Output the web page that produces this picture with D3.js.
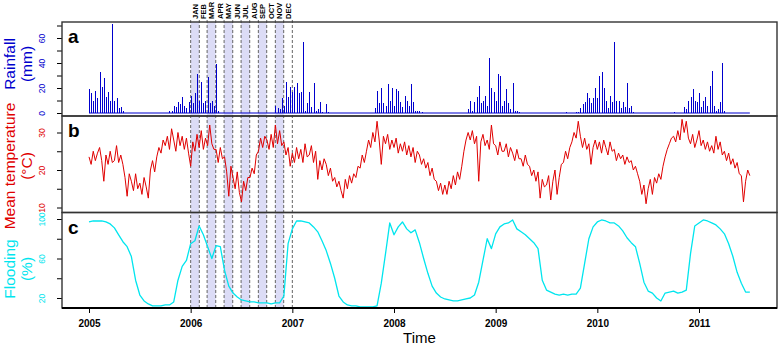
<!DOCTYPE html>
<html>
<head>
<meta charset="utf-8">
<script src="https://cdn.jsdelivr.net/npm/d3@7"></script>
<style>
body { margin: 0; background: #fff; }
svg { display: block; font-family: "Liberation Sans", Arial, sans-serif; }
</style>
</head>
<body>
<svg id="chart"></svg>
<script>
// ---- data ----
// rainfall (mm), 4 readings per month starting Jan 2005
const rainStart = 2005, rainPerYear = 48;
const rainfall = [
  19, 16, 10, 18, 12, 33, 21, 28, 13, 17,
  10, 71, 10, 12, 4, 5, 2, 0, 0, 0,
  0, 0, 0, 0, 0, 0, 0, 0, 0, 0,
  0, 0, 0, 0, 0, 0, 0, 0, 2, 2,
  6, 5, 9, 7, 13, 6, 4, 9, 14, 8,
  16, 31, 10, 25, 8, 10, 29, 8, 10, 6,
  39, 2, 0, 0, 0, 0, 0, 0, 0, 0,
  0, 0, 0, 0, 0, 0, 0, 0, 0, 0,
  0, 0, 0, 0, 0, 0, 0, 0, 6, 4,
  3, 12, 6, 25, 13, 21, 17, 21, 24, 16,
  17, 57, 2, 8, 17, 5, 24, 2, 3, 9,
  1, 0, 7, 1, 0, 0, 0, 0, 0, 0,
  0, 0, 0, 0, 0, 0, 0, 0, 0, 0,
  0, 0, 0, 0, 0, 4, 18, 8, 20, 8,
  6, 23, 10, 20, 6, 19, 18, 9, 5, 14,
  10, 6, 23, 9, 2, 2, 2, 1, 0, 0,
  0, 0, 0, 0, 0, 0, 0, 0, 0, 0,
  0, 0, 0, 0, 0, 0, 0, 0, 0, 3,
  10, 2, 9, 13, 22, 8, 10, 14, 6, 44,
  20, 17, 10, 31, 30, 6, 10, 19, 8, 3,
  24, 2, 2, 1, 0, 0, 0, 0, 0, 0,
  0, 0, 0, 0, 0, 0, 0, 0, 0, 0,
  0, 0, 0, 0, 0, 1, 0, 0, 0, 0,
  1, 1, 4, 7, 9, 16, 12, 8, 12, 20,
  12, 30, 33, 20, 10, 4, 14, 9, 57, 10,
  10, 4, 9, 5, 24, 4, 6, 1, 0, 0,
  0, 0, 0, 0, 0, 0, 0, 0, 0, 0,
  0, 0, 0, 0, 0, 0, 1, 0, 0, 0,
  0, 5, 3, 10, 13, 19, 10, 9, 16, 5,
  10, 13, 6, 22, 34, 6, 2, 3, 9, 40,
  2, 0, 0, 0, 0, 0, 0, 0, 0, 0,
  0, 0, 0
];

// mean temperature (deg C), 4 readings per month starting Jan 2005
const tempStart = 2005, tempPerYear = 48;
const temperature = [
  // 2005
  23.5, 21.5, 25, 22.5, 24.5, 26, 22.5, 17, 24, 21.5, 25, 22,
  22.5, 26.5, 22, 24, 21.5, 18, 13, 19, 17, 14.5, 19, 15,
  16.5, 13.5, 18, 15.5, 12.5, 20, 22.5, 19.5, 23.5, 26, 24.5, 28,
  26.5, 29, 25.5, 31, 28, 25, 30, 26.5, 29, 25.5, 28.5, 24.5,
  // 2006
  21, 27.5, 25, 29.5, 26, 30.5, 25.5, 28.5, 26.5, 32, 27, 25.5,
  25.5, 22, 26, 23, 23.5, 19.5, 13, 21, 18, 15, 19.5, 14,
  11.5, 17, 14.5, 18, 18, 20.5, 19, 24, 25, 28.5, 26, 29,
  28, 25.5, 29.5, 26, 32, 27, 30.5, 26.5, 27.5, 24, 26, 21,
  // 2007
  24.5, 22, 26, 23, 25.5, 22, 27, 23.5, 24, 26.5, 22, 25,
  17.5, 22.5, 20, 23, 21.5, 18.5, 20.5, 17, 18, 15.5, 17, 14.5,
  12.5, 17.5, 15, 18.5, 16.5, 19, 18, 21, 20.5, 24, 22, 25,
  28, 26, 30, 27.5, 33, 28, 21.5, 29, 27, 29.5, 25.5, 28,
  // 2008
  26, 28.5, 24.5, 27, 25, 27.5, 24, 26.5, 23.5, 26, 22, 25,
  24, 21.5, 23, 20.5, 22, 18.5, 20.5, 17.5, 17, 14.5, 16.5, 13.5,
  16, 13.5, 17, 15, 18.5, 16, 19.5, 17.5, 21, 25, 28, 30,
  28, 30.5, 27, 29, 17, 27.5, 29.5, 26.5, 28, 25.5, 32, 27,
  // 2009
  26.5, 24, 27.5, 25, 25, 27, 23.5, 26, 24.5, 22.5, 25.5, 23,
  23, 21, 24, 21.5, 21, 18.5, 20, 17, 19.5, 12.5, 17.5, 15.5,
  16, 18.5, 12, 17, 20, 13.5, 18, 21.5, 22, 25, 23, 26,
  27.5, 30, 28.5, 33, 29, 26, 28.5, 25.5, 27, 21.5, 26, 28,
  // 2010
  25.5, 27.5, 24.5, 28, 26, 24, 27.5, 25, 25.5, 22.5, 24.5, 23,
  24, 21.5, 23.5, 22, 22.5, 20, 21, 19, 17, 13.5, 16, 11,
  15, 17.5, 13.5, 18, 16.5, 19, 17.5, 21, 23.5, 25.5, 27, 28.5,
  29, 27.5, 30.5, 28, 33.5, 30, 33, 28.5, 27, 29.5, 26, 28,
  // 2011
  30.5, 26.5, 28, 25.5, 27.5, 25, 26.5, 24.5, 29, 25.5, 27.5, 24,
  25, 22.5, 24.5, 21.5, 23, 20.5, 22, 19, 18.5, 11.5, 17, 20,
  18.5
];

// flooding (%), 2 readings per month starting Jan 2005
const floodStart = 2005, floodPerYear = 24;
const flooding = [
  97, 98, 98, 98, 97, 95, 91, 84, 77, 72, 62, 38, 23, 17, 14, 12, 12, 12, 13, 13, 16, 38, 52, 58,
  75, 78, 93, 84, 72, 60, 73, 72, 48, 32, 25, 21, 18, 17, 16, 16, 15, 15, 15, 14, 15, 15, 22, 75,
  90, 98, 98, 97, 96, 92, 87, 78, 68, 55, 40, 22, 16, 13, 12, 12, 11, 11, 11, 11, 12, 35, 65, 96,
  84, 92, 97, 90, 86, 89, 76, 60, 45, 32, 25, 21, 19, 18, 17, 17, 18, 19, 20, 23, 36, 58, 80, 70,
  85, 92, 95, 96, 99, 90, 87, 84, 80, 76, 70, 38, 28, 26, 24, 23, 24, 23, 24, 24, 30, 55, 80, 92,
  97, 99, 98, 96, 96, 93, 88, 81, 76, 72, 55, 36, 27, 25, 20, 17, 25, 26, 27, 25, 26, 28, 65, 93,
  96, 99, 98, 96, 94, 90, 85, 75, 62, 46, 35, 26, 26
];

const years = [2005, 2006, 2007, 2008, 2009, 2010, 2011];
const monthNames = ["JAN", "FEB", "MAR", "APR", "MAY", "JUN", "JUL", "AUG", "SEP", "OCT", "NOV", "DEC"];
const highlightYear = 2006;

const rainTicks = [0, 10, 20, 30, 40, 50, 60, 70];
const rainLabels = [0, 20, 40, 60];
const tempTicks = [10, 15, 20, 25, 30];
const tempLabels = [10, 20, 30];
const floodTicks = [20, 40, 60, 80, 100];
const floodLabels = [20, 60, 100];

// ---- layout ----
const width = 778, height = 345;
const left = 62, right = 777;
const rainColor = "#0000cd", tempColor = "#e00000", floodColor = "#00e5ee";

const svg = d3.select("#chart").attr("width", width).attr("height", height);

const x = d3.scaleLinear().domain([2005, 2011]).range([89, 699]);

const panels = [
  { letter: "a", top: 22, bottom: 116, titleY: 64, color: rainColor, title: ["Rainfall", "(mm)"],
    y: d3.scaleLinear().domain([0, 60]).range([113, 38]), ticks: rainTicks, labels: rainLabels,
    values: rainfall, start: rainStart, perYear: rainPerYear, width: 1, spikes: true },
  { letter: "b", top: 116, bottom: 212.5, titleY: 166, color: tempColor, title: ["Mean temperature", "(°C)"],
    y: d3.scaleLinear().domain([10, 30]).range([207.5, 132.5]), ticks: tempTicks, labels: tempLabels,
    values: temperature, start: tempStart, perYear: tempPerYear, width: 1 },
  { letter: "c", top: 212.5, bottom: 308, titleY: 269, color: floodColor, title: ["Flooding", "(%)"],
    y: d3.scaleLinear().domain([20, 100]).range([298, 219]), ticks: floodTicks, labels: floodLabels,
    values: flooding, start: floodStart, perYear: floodPerYear, width: 1.3 }
];

function decYear(d) {
  const y = d.getFullYear();
  const s = new Date(y, 0, 1), e = new Date(y + 1, 0, 1);
  return y + (d - s) / (e - s);
}

// month bands for the highlighted year
const monthEdges = d3.timeMonths(new Date(highlightYear, 0, 1), new Date(highlightYear + 1, 0, 2)).map(decYear);
const monthSpans = monthNames.map((m, i) => ({ name: m, t0: monthEdges[i], t1: monthEdges[i + 1], i: i }));

const bands = svg.append("g");
bands.selectAll("rect")
  .data(monthSpans.filter(d => d.i % 2 === 0))
  .join("rect")
  .attr("x", d => x(d.t0))
  .attr("width", d => x(d.t1) - x(d.t0))
  .attr("y", 22)
  .attr("height", 308 - 22)
  .attr("fill", "#dcdcf6");

bands.selectAll("line")
  .data(monthEdges)
  .join("line")
  .attr("x1", d => x(d)).attr("x2", d => x(d))
  .attr("y1", 20).attr("y2", 308)
  .attr("stroke", "#666")
  .attr("stroke-width", 1)
  .attr("stroke-dasharray", "3,2");

svg.append("g").selectAll("text")
  .data(monthSpans)
  .join("text")
  .attr("transform", d => `translate(${x((d.t0 + d.t1) / 2) + 2.7},19) rotate(-90)`)
  .attr("text-anchor", "start")
  .attr("font-size", 7.5)
  .attr("font-weight", "bold")
  .text(d => d.name);

// ---- panels ----
panels.forEach(p => {
  const g = svg.append("g");
  const tx = i => x(p.start + i / p.perYear);

  if (p.spikes) {
    // rainfall: baseline plus one spike per reading
    const y0 = p.y(0);
    g.append("line")
      .attr("x1", tx(0)).attr("x2", tx(p.values.length - 1))
      .attr("y1", y0).attr("y2", y0)
      .attr("stroke", p.color).attr("stroke-width", 1.2);
    g.append("path")
      .attr("d", p.values.map((v, i) => `M${Math.round(tx(i)) + 0.5},${y0}V${p.y(v)}`).join(""))
      .attr("fill", "none")
      .attr("stroke", p.color)
      .attr("stroke-width", 1)
      .attr("shape-rendering", "crispEdges");
  } else {
    const line = d3.line()
      .x((v, i) => tx(i))
      .y(v => p.y(v));

    g.append("path")
      .datum(p.values)
      .attr("d", line)
      .attr("fill", "none")
      .attr("stroke", p.color)
      .attr("stroke-width", p.width)
      .attr("stroke-linejoin", "round");
  }

  // y axis
  const ax = g.append("g")
    .attr("transform", `translate(${left},0)`)
    .call(d3.axisLeft(p.y).tickValues(p.ticks).tickSize(5)
      .tickFormat(v => p.labels.includes(v) ? v : ""));
  ax.select(".domain").remove();
  ax.selectAll(".tick line").attr("stroke", "#000");
  ax.selectAll(".tick text")
    .attr("transform", "rotate(-90)")
    .attr("x", 0).attr("y", -17).attr("dy", 0)
    .attr("text-anchor", "middle")
    .attr("font-size", 8.5)
    .attr("font-family", "Liberation Sans, Arial, sans-serif")
    .attr("fill", p.color);

  // axis title
  p.title.forEach((t, k) => {
    g.append("text")
      .attr("transform", `translate(${15 + k * 17},${p.titleY}) rotate(-90)`)
      .attr("text-anchor", "middle")
      .attr("font-size", 15.5)
      .attr("fill", p.color)
      .text(t);
  });

  // frame and panel letter
  g.append("rect")
    .attr("x", left).attr("y", p.top)
    .attr("width", right - left).attr("height", p.bottom - p.top)
    .attr("fill", "none")
    .attr("stroke", "#333")
    .attr("stroke-width", 1.4);

  g.append("text")
    .attr("x", 68).attr("y", p.top + 21)
    .attr("font-size", 19)
    .attr("font-weight", "bold")
    .text(p.letter);
});

// ---- x axis ----
const xa = svg.append("g")
  .attr("transform", "translate(0,308)")
  .call(d3.axisBottom(x).tickValues(years).tickFormat(d3.format("d")).tickSize(5));
xa.select(".domain").remove();
xa.selectAll(".tick line").attr("stroke", "#000");
xa.selectAll(".tick text")
  .attr("y", 12)
  .attr("font-size", 10)
  .attr("font-weight", "bold")
  .attr("font-family", "Liberation Sans, Arial, sans-serif")
  .attr("fill", "#000");

svg.append("line")
  .attr("x1", left).attr("x2", right)
  .attr("y1", 308).attr("y2", 308)
  .attr("stroke", "#000").attr("stroke-width", 2);

svg.append("text")
  .attr("x", (left + right) / 2).attr("y", 343)
  .attr("text-anchor", "middle")
  .attr("font-size", 15)
  .text("Time");
</script>
</body>
</html>
